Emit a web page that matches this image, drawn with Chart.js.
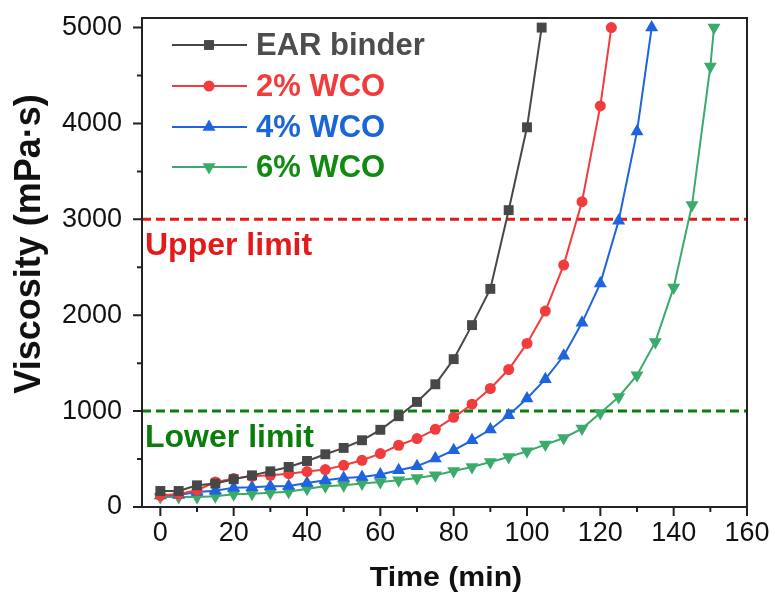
<!DOCTYPE html>
<html lang="en">
<head>
    <meta charset="UTF-8">
    <title>Viscosity vs Time</title>
    <script src="https://cdn.jsdelivr.net/npm/chart.js"></script>
    <style>
        body { margin: 0; background: #fff; }
        .wrap { width: 775px; height: 592px; }
    </style>
</head>
<body>
    <div class="wrap"><canvas id="chart" width="775" height="592"></canvas></div>
    <script>
        // time (min) and viscosity (mPa·s)
        const earTime = [0, 5, 10, 15, 20, 25, 30, 35, 40, 45, 50, 55, 60, 65, 70, 75, 80, 85, 90, 95, 100, 104];
        const earVisc = [167, 167, 226, 244, 290, 330, 372, 418, 480, 550, 616, 696, 805, 947, 1096, 1280, 1542, 1897, 2275, 3096, 3960, 5000];

        const wco2Time = [0, 5, 10, 15, 20, 25, 30, 35, 40, 45, 50, 55, 60, 65, 70, 75, 80, 85, 90, 95, 100, 105, 110, 115, 120, 123];
        const wco2Visc = [120, 135, 175, 261, 296, 320, 331, 348, 370, 390, 435, 487, 557, 644, 714, 810, 935, 1072, 1236, 1434, 1706, 2043, 2523, 3184, 4183, 5000];

        const wco4Time = [0, 5, 10, 15, 20, 25, 30, 35, 40, 45, 50, 55, 60, 65, 70, 75, 80, 85, 90, 95, 100, 105, 110, 115, 120, 125, 130, 134];
        const wco4Visc = [120, 125, 157, 170, 202, 205, 216, 220, 250, 278, 303, 313, 338, 383, 425, 505, 592, 696, 808, 957, 1131, 1333, 1577, 1921, 2332, 2985, 3915, 5000];

        const wco6Time = [0, 5, 10, 15, 20, 25, 30, 35, 40, 45, 50, 55, 60, 65, 70, 75, 80, 85, 90, 95, 100, 105, 110, 115, 120, 125, 130, 135, 140, 145, 150, 151];
        const wco6Visc = [104, 104, 104, 111, 132, 139, 149, 160, 190, 216, 226, 244, 261, 278, 303, 331, 376, 418, 470, 522, 581, 651, 720, 818, 981, 1148, 1375, 1722, 2290, 3149, 4593, 5000];

        const seriesNames = ['EAR binder', '2% WCO', '4% WCO', '6% WCO'];
        const limitValues = [3000, 1000];
        const limitNames = ['Upper limit', 'Lower limit'];

        const xTicks = [0, 20, 40, 60, 80, 100, 120, 140, 160];
        const xMinorTicks = [10, 30, 50, 70, 90, 110, 130, 150];
        const yTicks = [0, 1000, 2000, 3000, 4000, 5000];
        const yMinorTicks = [500, 1500, 2500, 3500, 4500];

        const lineColors = ['#474747', '#f03c3c', '#1e64e0', '#3aab6a'];
        const textColors = ['#4d4d4d', '#f03c3c', '#1a66d9', '#108a10'];
        const limitColors = ['#e41a1a', '#0b7d0b'];

        function toPoints(xs, ys) {
            return xs.map((x, i) => ({ x: x, y: ys[i] }));
        }

        function makeSet(i, xs, ys, style, radius, rotation) {
            return {
                label: seriesNames[i],
                data: toPoints(xs, ys),
                borderColor: lineColors[i],
                backgroundColor: lineColors[i],
                borderWidth: 2,
                pointStyle: style,
                pointRadius: radius,
                pointRotation: rotation,
                pointBorderWidth: 0,
                tension: 0
            };
        }

        const limitPlugin = {
            id: 'limits',
            beforeDatasetsDraw(chart) {
                const { ctx, chartArea, scales } = chart;
                ctx.save();
                limitValues.forEach((v, i) => {
                    const py = scales.y.getPixelForValue(v);
                    ctx.strokeStyle = limitColors[i];
                    ctx.lineWidth = 3;
                    ctx.setLineDash([9, 5]);
                    ctx.beginPath();
                    ctx.moveTo(chartArea.left, py);
                    ctx.lineTo(chartArea.right, py);
                    ctx.stroke();
                    ctx.setLineDash([]);
                    ctx.fillStyle = limitColors[i];
                    ctx.font = 'bold 32px "Liberation Sans", Arial, sans-serif';
                    ctx.textBaseline = 'middle';
                    ctx.textAlign = 'left';
                    ctx.fillText(limitNames[i], chartArea.left + 3, py + 27);
                });
                ctx.restore();
            }
        };

        const framePlugin = {
            id: 'frame',
            afterDraw(chart) {
                const { ctx, chartArea, scales } = chart;
                const { left, right, top, bottom } = chartArea;
                ctx.save();
                ctx.strokeStyle = '#222';
                ctx.lineWidth = 2;
                ctx.strokeRect(left, top, right - left, bottom - top);
                ctx.beginPath();
                xTicks.forEach(v => {
                    const px = scales.x.getPixelForValue(v);
                    ctx.moveTo(px, bottom); ctx.lineTo(px, bottom + 9);
                });
                xMinorTicks.forEach(v => {
                    const px = scales.x.getPixelForValue(v);
                    ctx.moveTo(px, bottom); ctx.lineTo(px, bottom + 5);
                });
                yTicks.forEach(v => {
                    const py = scales.y.getPixelForValue(v);
                    ctx.moveTo(left, py); ctx.lineTo(left - 9, py);
                });
                yMinorTicks.forEach(v => {
                    const py = scales.y.getPixelForValue(v);
                    ctx.moveTo(left, py); ctx.lineTo(left - 5, py);
                });
                ctx.stroke();

                // axis titles
                ctx.fillStyle = '#111';
                ctx.textAlign = 'center';
                ctx.textBaseline = 'middle';
                ctx.font = 'bold 28px "Liberation Sans", Arial, sans-serif';
                ctx.save();
                ctx.translate(446, 578);
                ctx.scale(1.08, 1);
                ctx.fillText('Time (min)', 0, 0);
                ctx.restore();
                ctx.save();
                ctx.translate(30, 244);
                ctx.rotate(-Math.PI / 2);
                ctx.font = 'bold 36px "Liberation Sans", Arial, sans-serif';
                ctx.fillText('Viscosity (mPa·s)', 0, 0);
                ctx.restore();

                // legend
                const rowY = [45, 86, 127, 167];
                chart.data.datasets.forEach((ds, i) => {
                    const y = rowY[i];
                    ctx.strokeStyle = ds.borderColor;
                    ctx.lineWidth = 2;
                    ctx.beginPath();
                    ctx.moveTo(172, y); ctx.lineTo(247, y);
                    ctx.stroke();
                    ctx.fillStyle = ds.backgroundColor;
                    Chart.helpers.drawPoint(ctx, {
                        pointStyle: ds.pointStyle,
                        radius: ds.pointRadius,
                        rotation: ds.pointRotation,
                        borderWidth: 0
                    }, 209, y);
                    ctx.fillStyle = textColors[i];
                    ctx.textAlign = 'left';
                    ctx.font = 'bold 31px "Liberation Sans", Arial, sans-serif';
                    ctx.fillText(ds.label, 256, y + 1);
                });
                ctx.restore();
            }
        };

        const tickFont = { family: '"Liberation Sans", Arial, sans-serif', size: 27 };

        new Chart(document.getElementById('chart'), {
            type: 'line',
            data: {
                datasets: [
                    makeSet(0, earTime, earVisc, 'rect', 7, 0),
                    makeSet(1, wco2Time, wco2Visc, 'circle', 5.5, 0),
                    makeSet(2, wco4Time, wco4Visc, 'triangle', 7.5, 0),
                    makeSet(3, wco6Time, wco6Visc, 'triangle', 7.5, 180)
                ]
            },
            options: {
                responsive: false,
                animation: false,
                layout: { padding: { top: 18, right: 28, left: 0, bottom: 0 } },
                plugins: {
                    legend: { display: false },
                    tooltip: { enabled: false }
                },
                scales: {
                    x: {
                        type: 'linear',
                        min: -5,
                        max: 160,
                        // grid hidden; tickLength only spaces the labels (marks drawn by plugin)
                        grid: { display: false, drawTicks: true, tickLength: 10 },
                        border: { display: false },
                        ticks: { font: tickFont, color: '#111', padding: 0, maxRotation: 0 },
                        afterBuildTicks: s => { s.ticks = xTicks.map(v => ({ value: v })); },
                        afterFit: s => { s.height = 85; }
                    },
                    y: {
                        min: 0,
                        max: 5100,
                        grid: { display: false, drawTicks: true, tickLength: 20 },
                        border: { display: false },
                        ticks: { font: tickFont, color: '#111', padding: 0, callback: v => String(v) },
                        afterBuildTicks: s => { s.ticks = yTicks.map(v => ({ value: v })); },
                        afterFit: s => { s.width = 142; }
                    }
                }
            },
            plugins: [limitPlugin, framePlugin]
        });
    </script>
</body>
</html>
